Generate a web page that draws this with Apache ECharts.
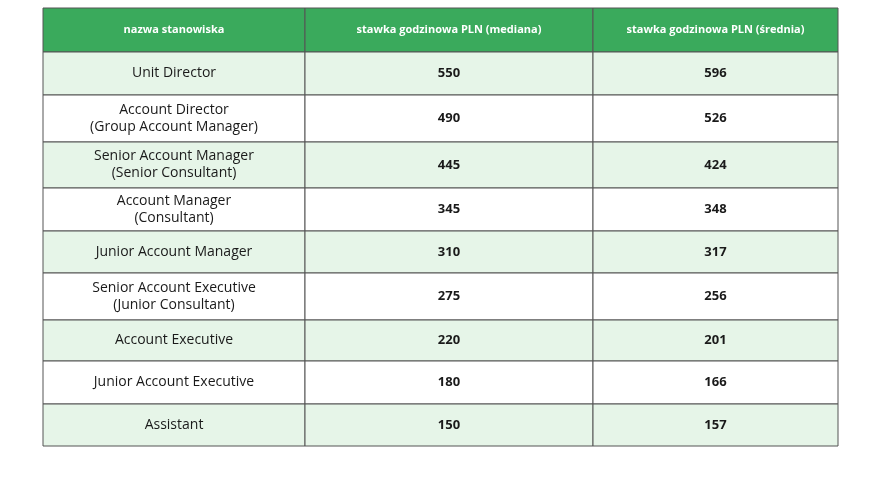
<!DOCTYPE html><html><head><meta charset="utf-8"><script src="https://cdn.jsdelivr.net/npm/echarts@6/dist/echarts.min.js"></script></head><body style="margin:0;background:#fff"><div id="c" style="width:880px;height:480px"></div><script>
const headers=['nazwa stanowiska','stawka godzinowa PLN (mediana)','stawka godzinowa PLN (średnia)'];
const positions=['Unit Director','Account Director\n(Group Account Manager)','Senior Account Manager\n(Senior Consultant)','Account Manager\n(Consultant)','Junior Account Manager','Senior Account Executive\n(Junior Consultant)','Account Executive','Junior Account Executive','Assistant'];
const median=[550,490,445,345,310,275,220,180,150];
const mean=[596,526,424,348,317,256,201,166,157];
const colW=[262,288,245];
const rowH=[44,43,47,46,43,42,47,41,43,42];
const data=[];
headers.forEach((h,c)=>data.push([c,0,h]));
positions.forEach((p,r)=>{data.push([0,r+1,p]);data.push([1,r+1,String(median[r])]);data.push([2,r+1,String(mean[r])]);});
const cw=colW.reduce((a,b)=>a+b),rh=rowH.reduce((a,b)=>a+b);
const chart=echarts.init(document.getElementById('c'));
chart.setOption({animation:false,
grid:{left:43,top:8,width:795,height:438},
xAxis:{type:'category',data:headers,show:false},
yAxis:{type:'category',data:['h'].concat(positions),show:false,inverse:true},
series:[{type:'custom',data:data,renderItem:function(params,api){
 const cs=params.coordSys;const c=api.value(0),r=api.value(1);const t=data[params.dataIndex][2];
 let x=cs.x;for(let i=0;i<c;i++)x+=colW[i]*cs.width/cw;
 let y=cs.y;for(let i=0;i<r;i++)y+=rowH[i]*cs.height/rh;
 const w=colW[c]*cs.width/cw,h=rowH[r]*cs.height/rh;
 const fill=r===0?'#3aaa5c':(r%2===1?'#e6f5e8':'#ffffff');
 let font;let color='#1a1a1a';
 if(r===0){font='bold 11px "Open Sans"';color='#ffffff';}
 else if(c===0){font='14px "Open Sans"';}
 else{font='bold 13px "Open Sans"';}
 return {type:'group',children:[
  {type:'rect',shape:{x:x,y:y,width:w,height:h},style:{fill:fill,stroke:'#555',lineWidth:1}},
  {type:'text',style:{text:t,x:x+w/2,y:y+h/2,align:'center',verticalAlign:'middle',font:font,fill:color,lineHeight:17}}
 ]};
}}]});
</script></body></html>
